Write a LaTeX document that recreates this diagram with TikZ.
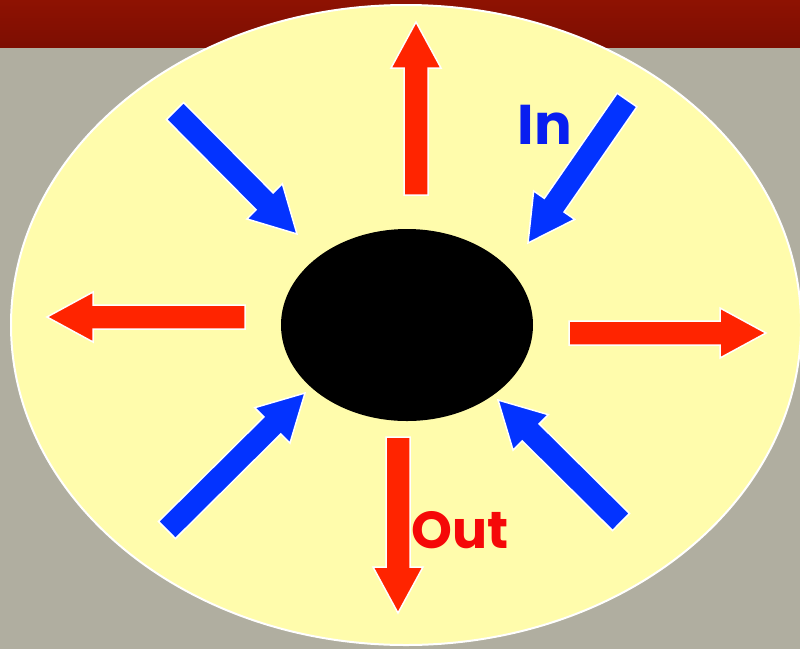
\documentclass[tikz,border=0pt]{standalone}
\usepackage{fontspec}
\newfontfamily\comicfont{Poppins}
\usetikzlibrary{calc,shapes.geometric}
\definecolor{bgray}{RGB}{176,174,160}
\definecolor{bandtop}{RGB}{142,18,2}
\definecolor{bandbot}{RGB}{125,14,2}
\definecolor{discyellow}{RGB}{255,252,172}
\definecolor{arrred}{RGB}{255,36,0}
\definecolor{arrblue}{RGB}{3,51,255}
\definecolor{inblue}{RGB}{8,30,240}
\definecolor{outred}{RGB}{245,8,8}
\newcommand\blockarrow[3]{%
  \coordinate (hb) at ($(#3)!46pt!(#2)$);
  \filldraw[fill=#1, draw=white, line width=1.5pt, line join=miter]
    ($(#2)!12pt!90:(#3)$) -- ($(hb)!12pt!90:(#3)$) -- ($(hb)!25pt!90:(#3)$) -- (#3)
    -- ($(hb)!25pt!-90:(#3)$) -- ($(hb)!12pt!-90:(#3)$) -- ($(#2)!12pt!-90:(#3)$) -- cycle;
}
\tikzset{
  lbl/.style={font=\comicfont\bfseries\fontsize{56}{60}\selectfont, inner sep=0pt},
  lblsmall/.style={font=\comicfont\bfseries\fontsize{52}{56}\selectfont, inner sep=0pt}
}
\begin{document}
\begin{tikzpicture}[x=1pt,y=-1pt]
\useasboundingbox (0,0) rectangle (800,649);
\fill[bgray] (0,0) rectangle (800,649);
\shade[top color=bandtop, bottom color=bandbot] (0,0) rectangle (800,47);
\node[ellipse, draw=white, line width=2pt, fill=discyellow, minimum width=790pt, minimum height=640pt, inner sep=0pt] (disc) at (406,325) {};
\node[ellipse, fill=black, minimum width=252pt, minimum height=192pt, inner sep=0pt] (core) at (407,325) {};
% red arrows (out)
\coordinate (upT) at (416,195); \coordinate (upH) at (416,22);
\coordinate (ltT) at (245,317); \coordinate (ltH) at (47,317);
\coordinate (rtT) at (569,333); \coordinate (rtH) at (766,333);
\coordinate (dnT) at (398,437); \coordinate (dnH) at (398,613);
\blockarrow{arrred}{upT}{upH}
\blockarrow{arrred}{ltT}{ltH}
\blockarrow{arrred}{rtT}{rtH}
\blockarrow{arrred}{dnT}{dnH}
% blue arrows (in)
\coordinate (tlT) at (175,111); \coordinate (tlH) at (297,234);
\coordinate (trT) at (627,100); \coordinate (trH) at (528,243);
\coordinate (blT) at (167,530); \coordinate (blH) at (305,393);
\coordinate (brT) at (621,522); \coordinate (brH) at (498,400);
\blockarrow{arrblue}{tlT}{tlH}
\blockarrow{arrblue}{trT}{trH}
\blockarrow{arrblue}{blT}{blH}
\blockarrow{arrblue}{brT}{brH}
\node[lbl, text=inblue] (inlbl) at (545,125) {In};
\node[lblsmall, text=outred, anchor=west] (outlbl) at (411,530) {Out};
\end{tikzpicture}
\end{document}
